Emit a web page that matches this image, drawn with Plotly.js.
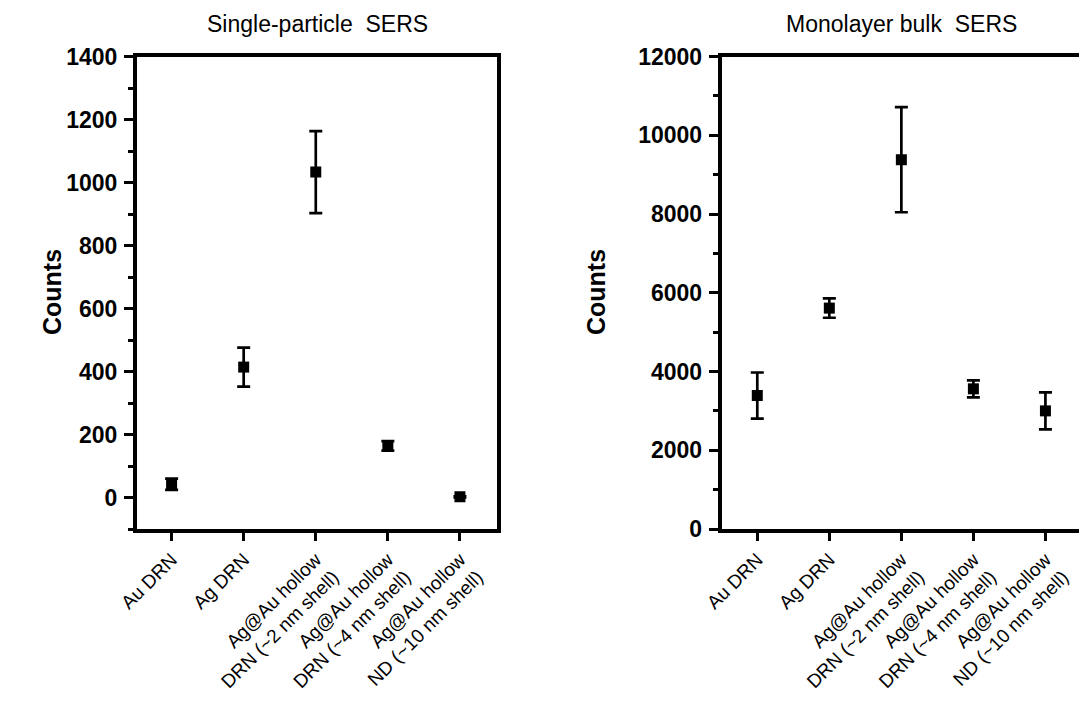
<!DOCTYPE html>
<html>
<head>
<meta charset="utf-8">
<script src="https://cdn.plot.ly/plotly-3.0.1.min.js"></script>
<style>html,body{margin:0;padding:0;background:#fff;}#chart{width:1079px;height:706px;}</style>
</head>
<body>
<div id="chart"></div>
<script>
const categories = [
  "Au DRN",
  "Ag DRN",
  "Ag@Au hollow<br>DRN (~2 nm shell)",
  "Ag@Au hollow<br>DRN (~4 nm shell)",
  "Ag@Au hollow<br>ND (~10 nm shell)"
];
const singleCounts = [42, 414, 1033, 164, 2];
const singleErr = [18, 62, 130, 15, 2];
const bulkCounts = [3390, 5610, 9380, 3560, 3000];
const bulkErr = [585, 245, 1335, 215, 470];
const titleLeft = "Single-particle\u00a0 SERS";
const titleRight = "Monolayer bulk\u00a0 SERS";
const yTitle = "Counts";

const FONT = "Arial, 'Liberation Sans', sans-serif";
const W = 1079, H = 706;
const idx = categories.map((_, i) => i);

function trace(y, err, xa, ya) {
  return {
    type: "scatter", mode: "markers",
    x: idx, y: y, xaxis: xa, yaxis: ya,
    marker: {symbol: "square", size: 11, color: "#000"},
    error_y: {type: "data", array: err, visible: true, color: "#000", thickness: 2.7, width: 6.5},
    showlegend: false, hoverinfo: "skip"
  };
}

const yDomain = [(H - 529) / H, (H - 56.5) / H];

function xaxisCfg(domain, range, mirror) {
  return {
    domain: domain, range: range,
    tickmode: "array", tickvals: idx, ticktext: categories,
    tickangle: -45,
    ticks: "outside", ticklen: 8, tickwidth: 3, tickcolor: "#000",
    showline: true, linewidth: 4, linecolor: "#000", mirror: mirror,
    showgrid: false, zeroline: false,
    tickfont: {family: FONT, size: 19, color: "#000"}
  };
}
function yaxisCfg(range, dtick, minorDtick, mirror, anchor) {
  return {
    domain: yDomain, range: range, anchor: anchor,
    dtick: dtick, tick0: 0, tickformat: "d",
    ticks: "outside", ticklen: 9, tickwidth: 3, tickcolor: "#000",
    ticklabelstandoff: 2,
    minor: {dtick: minorDtick, tick0: 0, ticks: "outside", ticklen: 5, tickwidth: 3, tickcolor: "#000", showgrid: false},
    showline: true, linewidth: 4, linecolor: "#000", mirror: mirror,
    showgrid: false, zeroline: false,
    tickfont: {family: FONT, size: 23, color: "#000", weight: "bold"}
  };
}

const layout = {
  width: W, height: H,
  margin: {l: 0, r: 0, t: 0, b: 0},
  paper_bgcolor: "#fff", plot_bgcolor: "#fff",
  xaxis: Object.assign(xaxisCfg([137 / W, 496.7 / W], [-0.48, 4.51], true), {anchor: "y"}),
  yaxis: yaxisCfg([-100, 1400], 200, 100, true, "x"),
  xaxis2: Object.assign(xaxisCfg([721.7 / W, 1], [-0.494, 4.466], true), {anchor: "y2"}),
  yaxis2: yaxisCfg([0, 12000], 2000, 1000, false, "x2"),
  annotations: [
    {text: titleLeft, xref: "paper", yref: "paper", x: 317 / W, y: 1 - 24 / H, showarrow: false,
     xanchor: "center", yanchor: "middle", font: {family: FONT, size: 23, color: "#000"}},
    {text: titleRight, xref: "paper", yref: "paper", x: 901 / W, y: 1 - 24 / H, showarrow: false,
     xanchor: "center", yanchor: "middle", font: {family: FONT, size: 23, color: "#000"}},
    {text: yTitle, xref: "paper", yref: "paper", x: 52 / W, y: 1 - 292 / H, showarrow: false, textangle: -90,
     xanchor: "center", yanchor: "middle", font: {family: FONT, size: 25, color: "#000", weight: "bold"}},
    {text: yTitle, xref: "paper", yref: "paper", x: 596 / W, y: 1 - 292 / H, showarrow: false, textangle: -90,
     xanchor: "center", yanchor: "middle", font: {family: FONT, size: 25, color: "#000", weight: "bold"}}
  ]
};

Plotly.newPlot("chart", [
  trace(singleCounts, singleErr, "x", "y"),
  trace(bulkCounts, bulkErr, "x2", "y2")
], layout, {staticPlot: true, displayModeBar: false});
</script>
</body>
</html>
